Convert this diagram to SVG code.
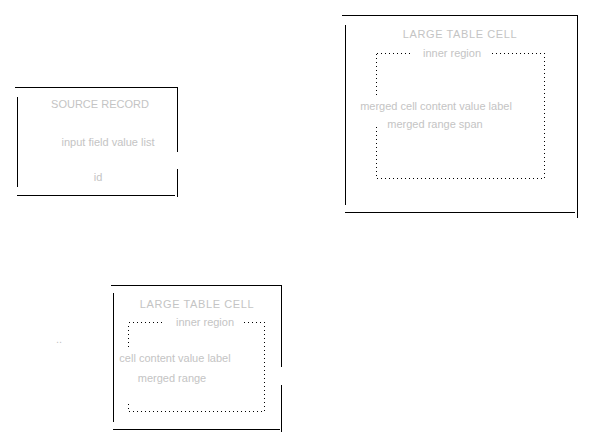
<svg xmlns="http://www.w3.org/2000/svg" width="593" height="447" viewBox="0 0 593 447">
  <style>
    .edge { stroke: #000; stroke-width: 1; fill: none; shape-rendering: crispEdges; }
    .dash { stroke: #000; stroke-width: 1; fill: none; stroke-dasharray: 1 3; shape-rendering: crispEdges; }
    .t { font-family: "Liberation Sans", Arial, sans-serif; font-size: 11px; fill: #c4c4c4; text-anchor: middle; }
    .h { font-family: "Liberation Sans", Arial, sans-serif; font-size: 11px; fill: #c4c4c4; text-anchor: middle; letter-spacing: 0.6px; }
  </style>
  <rect width="593" height="447" fill="#fff"/>

  <g id="connectors"></g>

  <g id="node-source">
    <path class="edge" d="M15 87.5H177.5M177.5 87V152M177.5 169V197M17.5 97V187M17 195.5H175"/>
    <text class="t" x="100" y="108">SOURCE RECORD</text>
    <text class="t" x="108" y="146">input field value list</text>
    <text class="t" x="98" y="181">id</text>
  </g>

  <g id="cluster-top">
    <path class="edge" d="M342 15.5H577.5M577.5 15V218M345.5 25V205M345 212.5H575"/>
    <text class="h" x="460" y="38">LARGE TABLE CELL</text>
    <g id="inner-top">
      <path class="dash" d="M376.5 53.5H412M492 53.5H544.5V178.5H376.5V125M376.5 95V53.5"/>
      <text class="t" x="452" y="57">inner region</text>
      <text class="t" x="436" y="110">merged cell content value label</text>
      <text class="t" x="435" y="128">merged range span</text>
    </g>
  </g>

  <g id="cluster-bottom">
    <path class="edge" d="M111 285.5H281.5M281.5 285V367M281.5 385V432M113.5 293V422M113 429.5H280"/>
    <text class="h" x="197" y="308">LARGE TABLE CELL</text>
    <g id="inner-bottom">
      <path class="dash" d="M128.5 322.5H165M244 322.5H264.5V411.5H128.5V404M128.5 347V322.5"/>
      <text class="t" x="205" y="326">inner region</text>
      <text class="t" x="175" y="362">cell content value label</text>
      <text class="t" x="172" y="382">merged range</text>
    </g>
  </g>

  <g id="label-outside">
    <text class="t" x="59" y="343">..</text>
  </g>
</svg>
